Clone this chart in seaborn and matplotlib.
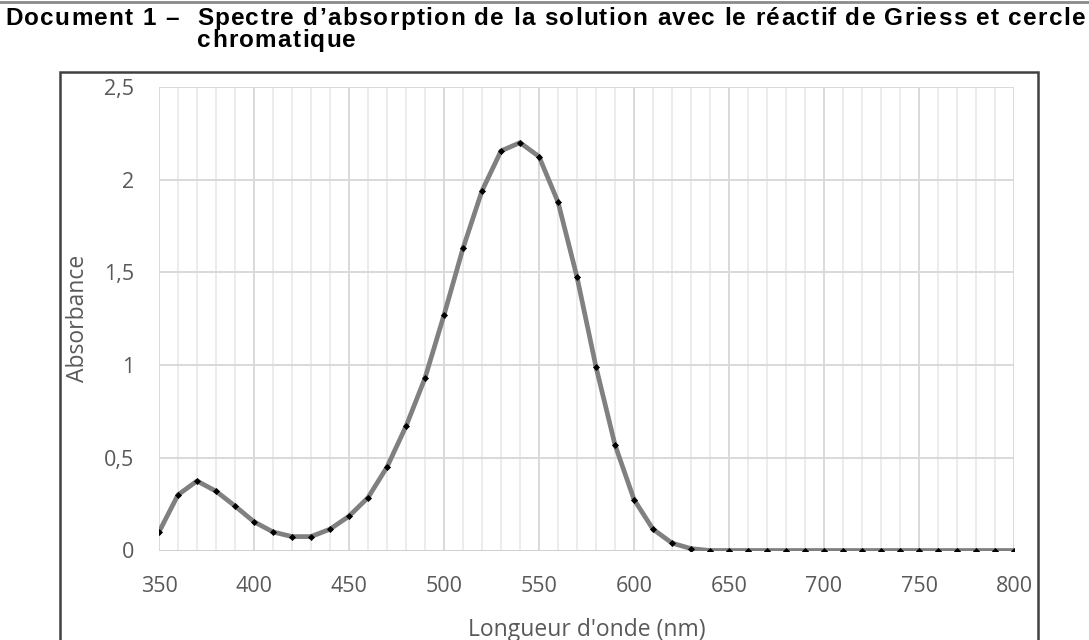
import matplotlib
matplotlib.use("Agg")
import matplotlib.pyplot as plt
import seaborn as sns
import pandas as pd
from matplotlib.patches import Rectangle
from matplotlib.lines import Line2D
from matplotlib.font_manager import findfont, FontProperties
from matplotlib.ft2font import FT2Font

wavelength_nm = [350, 360, 370, 380, 390, 400, 410, 420, 430, 440,
                 450, 460, 470, 480, 490, 500, 510, 520, 530, 540,
                 550, 560, 570, 580, 590, 600, 610, 620, 630, 640,
                 650, 660, 670, 680, 690, 700, 710, 720, 730, 740,
                 750, 760, 770, 780, 790, 800]
absorbance = [0.10, 0.30, 0.375, 0.32, 0.24, 0.155, 0.10, 0.075, 0.075, 0.115,
              0.185, 0.285, 0.45, 0.67, 0.93, 1.27, 1.63, 1.94, 2.155, 2.20,
              2.125, 1.88, 1.475, 0.99, 0.57, 0.275, 0.115, 0.04, 0.01, 0.0,
              0.0, 0.0, 0.0, 0.0, 0.0, 0.0, 0.0, 0.0, 0.0, 0.0,
              0.0, 0.0, 0.0, 0.0, 0.0, 0.0]
x_ticks = [350, 400, 450, 500, 550, 600, 650, 700, 750, 800]
x_tick_labels = ["350", "400", "450", "500", "550", "600", "650", "700", "750", "800"]
y_ticks = [0, 0.5, 1, 1.5, 2, 2.5]
y_tick_labels = ["0", "0,5", "1", "1,5", "2", "2,5"]
title_prefix = "Document 1 \u2013"
title_line1 = "Spectre d\u2019absorption de la solution avec le r\u00e9actif de Griess et cercle"
title_line2 = "chromatique"
x_label = "Longueur d'onde (nm)"
y_label = "Absorbance"

df = pd.DataFrame({"wl": wavelength_nm, "abs": absorbance})

sns.set_theme(style="white")
plt.rcParams["font.family"] = ["Open Sans", "DejaVu Sans"]

W, H = 1089, 640
fig = plt.figure(figsize=(W / 100, H / 100), dpi=100)
ax = fig.add_axes([159 / W, 1 - 550.5 / H, (1014 - 159) / W, (550.5 - 87) / H])

# grid
for xv in range(350, 801, 10):
    major = (xv % 50 == 0)
    ax.axvline(xv, color="#d9d9d9" if major else "#ececec", lw=1.4, zorder=0)
for yv in y_ticks[1:]:
    ax.axhline(yv, color="#d9d9d9", lw=1.4, zorder=0)
ax.axhline(0, color="#d0d0d0", lw=1.4, zorder=0)

sns.lineplot(data=df, x="wl", y="abs", ax=ax, color="#808080", lw=3.4,
             solid_joinstyle="round", solid_capstyle="round", zorder=2)
sns.scatterplot(data=df, x="wl", y="abs", ax=ax, color="black", marker="D",
                s=13, linewidth=0, zorder=3)

ax.set_xlim(350, 800)
ax.set_ylim(0, 2.5)
ax.set_xticks(x_ticks)
ax.set_xticklabels(x_tick_labels)
ax.set_yticks(y_ticks)
ax.set_yticklabels(y_tick_labels)
ax.tick_params(axis="both", length=0, labelsize=15.5, colors="#595959")
ax.tick_params(axis="x", pad=18)
ax.tick_params(axis="y", pad=18)
ax.set_xlabel("")
ax.set_ylabel("")
for s in ax.spines.values():
    s.set_visible(False)

fig.text(587 / W, 1 - 636 / H, x_label, ha="center", va="baseline",
         fontsize=16.5, color="#595959")
fig.text(78 / W, 1 - 318.5 / H, y_label, ha="center", va="center",
         rotation=90, fontsize=16.5, color="#595959")

# frame and top rule
fig.add_artist(Rectangle((60 / W, -0.02), (1038 - 60) / W, (0.02 + 1 - 72 / H),
                         transform=fig.transFigure, fill=False,
                         edgecolor="#404040", lw=1.8))
fig.add_artist(Line2D([0, 1], [1 - 2 / H, 1 - 2 / H], transform=fig.transFigure,
                      color="#8a8a8a", lw=2))

# title with slightly expanded letter spacing (character by character)
TSIZE = 17.5
tprop = FontProperties(family="Liberation Sans", weight="bold")
ft = FT2Font(findfont(tprop))
ft.set_size(TSIZE, 100)


def advances(s):
    return [ft.load_char(ord(c)).linearHoriAdvance / 65536.0 for c in s]


def draw_tracked(s, x_start, baseline, tracking):
    adv = advances(s)
    x = x_start
    for c, a in zip(s, adv):
        if c != " ":
            fig.text(x / W, 1 - baseline / H, c, ha="left", va="baseline",
                     fontsize=TSIZE, fontweight="bold",
                     family=["Liberation Sans", "DejaVu Sans"], color="black")
        x += a + tracking


adv1 = advances(title_line1)
track = (1085.0 - 197.0 - sum(adv1)) / (len(title_line1) - 1)
draw_tracked(title_prefix, 5.0, 25, track)
draw_tracked(title_line1, 197.0, 25, track)
draw_tracked(title_line2, 197.0, 47, track)

fig.savefig("out.png", dpi=100)
